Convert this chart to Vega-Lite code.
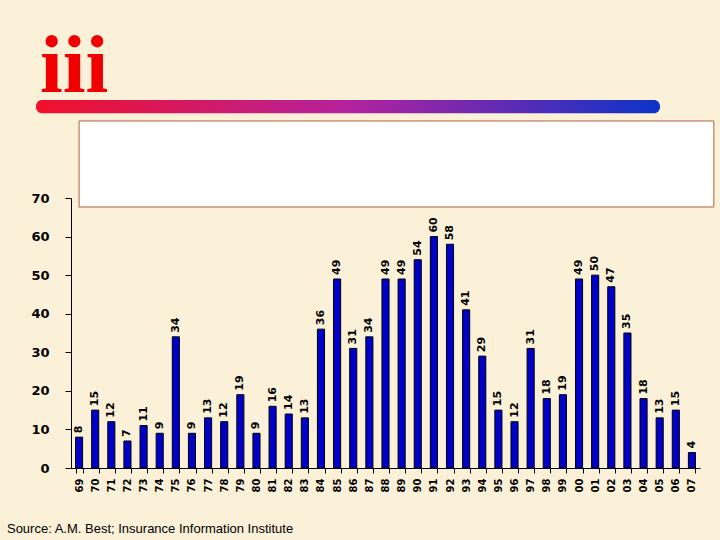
{
  "$schema": "https://vega.github.io/schema/vega-lite/v6.json",
  "width": 629,
  "height": 270,
  "autosize": {"type": "none"},
  "padding": {"left": 71, "top": 198, "right": 20, "bottom": 72},
  "background": "#fbf0d8",
  "config": {
    "view": {"stroke": null},
    "axis": {"grid": false, "tickColor": "#000000", "domainColor": "#000000", "labelColor": "#000000", "labelFont": "DejaVu Sans", "labelFontWeight": "bold", "title": null, "labelOverlap": false},
    "axisY": {"tickCount": 7, "labelFontSize": 13, "labelPadding": 16, "tickSize": 6},
    "axisX": {"labelAngle": -90, "labelFontSize": 10, "labelPadding": 5, "tickSize": 5, "tickBand": "extent"}
  },
  "datasets": {
    "bars": [
      {"year": "69", "value": 8}, {"year": "70", "value": 15}, {"year": "71", "value": 12},
      {"year": "72", "value": 7}, {"year": "73", "value": 11}, {"year": "74", "value": 9},
      {"year": "75", "value": 34}, {"year": "76", "value": 9}, {"year": "77", "value": 13},
      {"year": "78", "value": 12}, {"year": "79", "value": 19}, {"year": "80", "value": 9},
      {"year": "81", "value": 16}, {"year": "82", "value": 14}, {"year": "83", "value": 13},
      {"year": "84", "value": 36}, {"year": "85", "value": 49}, {"year": "86", "value": 31},
      {"year": "87", "value": 34}, {"year": "88", "value": 49}, {"year": "89", "value": 49},
      {"year": "90", "value": 54}, {"year": "91", "value": 60}, {"year": "92", "value": 58},
      {"year": "93", "value": 41}, {"year": "94", "value": 29}, {"year": "95", "value": 15},
      {"year": "96", "value": 12}, {"year": "97", "value": 31}, {"year": "98", "value": 18},
      {"year": "99", "value": 19}, {"year": "00", "value": 49}, {"year": "01", "value": 50},
      {"year": "02", "value": 47}, {"year": "03", "value": 35}, {"year": "04", "value": 18},
      {"year": "05", "value": 13}, {"year": "06", "value": 15}, {"year": "07", "value": 4}
    ]
  },
  "layer": [
    {
      "data": {"name": "bars"},
      "layer": [
        {
          "mark": {"type": "bar", "fill": "#0000c8", "stroke": "#000000", "strokeWidth": 1},
          "encoding": {
            "x": {
              "field": "year", "type": "ordinal", "sort": null,
              "scale": {"paddingInner": 0.56, "paddingOuter": 0.28}
            },
            "y": {
              "field": "value", "type": "quantitative",
              "scale": {"domain": [0, 70], "nice": false}
            }
          }
        },
        {
          "mark": {"type": "text", "angle": 270, "align": "left", "baseline": "middle", "dx": 4, "font": "DejaVu Sans", "fontWeight": "bold", "fontSize": 11, "color": "#000000"},
          "encoding": {
            "x": {"field": "year", "type": "ordinal", "sort": null},
            "y": {"field": "value", "type": "quantitative"},
            "text": {"field": "value"}
          }
        }
      ]
    },
    {
      "data": {"values": [{}]},
      "mark": {
        "type": "rect",
        "cornerRadius": 6,
        "color": {
          "x1": 0, "y1": 0, "x2": 1, "y2": 0,
          "gradient": "linear",
          "stops": [
            {"offset": 0, "color": "#f2102a"},
            {"offset": 0.5, "color": "#b4229e"},
            {"offset": 1, "color": "#0c34c8"}
          ]
        }
      },
      "encoding": {
        "x": {"datum": -2.17, "type": "quantitative", "scale": {"domain": [0, 39]}, "axis": null},
        "x2": {"datum": 36.52},
        "y": {"datum": 95.4, "type": "quantitative"},
        "y2": {"datum": 92.0}
      }
    },
    {
      "data": {"values": [{}]},
      "mark": {"type": "rect", "fill": "#ffffff", "stroke": "#b0603c", "strokeWidth": 1},
      "encoding": {
        "x": {"datum": 0.5, "type": "quantitative", "scale": {"domain": [0, 39]}, "axis": null},
        "x2": {"datum": 39.86},
        "y": {"datum": 89.97, "type": "quantitative"},
        "y2": {"datum": 67.67}
      }
    },
    {
      "data": {"values": [{"label": "iii"}]},
      "mark": {"type": "text", "font": "Liberation Serif", "fontWeight": "bold", "fontSize": 82, "color": "#f00000", "align": "left", "baseline": "alphabetic"},
      "encoding": {
        "x": {"datum": -1.92, "type": "quantitative", "scale": {"domain": [0, 39]}, "axis": null},
        "y": {"datum": 97.5, "type": "quantitative"},
        "text": {"field": "label"}
      }
    },
    {
      "data": {"values": [{"label": "Source: A.M. Best; Insurance Information Institute"}]},
      "mark": {"type": "text", "font": "Liberation Sans", "fontSize": 13, "color": "#000000", "align": "left", "baseline": "middle"},
      "encoding": {
        "x": {"datum": -3.97, "type": "quantitative", "scale": {"domain": [0, 39]}, "axis": null},
        "y": {"datum": -15.8, "type": "quantitative"},
        "text": {"field": "label"}
      }
    }
  ],
  "resolve": {"scale": {"x": "independent"}}
}
